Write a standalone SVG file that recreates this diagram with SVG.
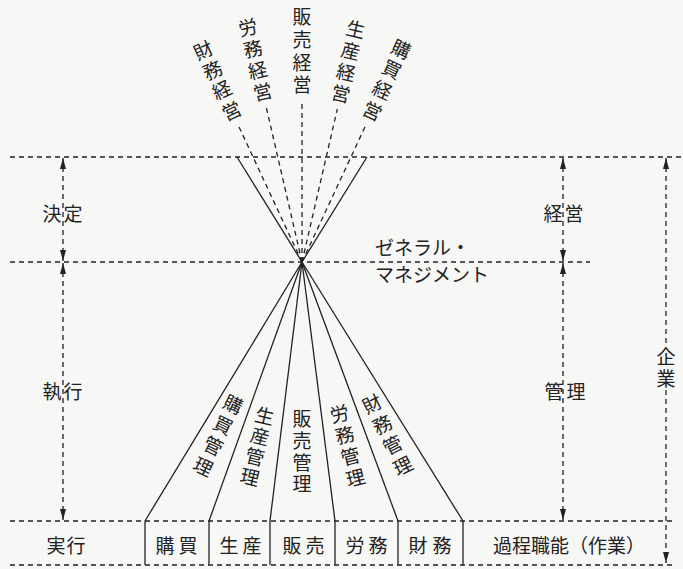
<svg xmlns="http://www.w3.org/2000/svg" width="683" height="569" viewBox="0 0 683 569">
<style>
.dash{stroke:#222;stroke-width:1.3;stroke-dasharray:5 4;fill:none}
.solid{stroke:#222;stroke-width:1.3;fill:none}
.t{font-family:"Noto Sans CJK JP","Noto Sans CJK SC",sans-serif;font-size:19px;fill:#222;text-anchor:middle;dominant-baseline:central}
.ts{font-family:"Noto Sans CJK JP","Noto Sans CJK SC",sans-serif;font-size:19px;fill:#222;dominant-baseline:central}
</style>
<defs>
<marker id="ah" viewBox="0 0 11 6" refX="11" refY="3" markerWidth="11" markerHeight="6" markerUnits="userSpaceOnUse" orient="auto-start-reverse">
<path d="M0,0 L11,3 L0,6 z" fill="#222"/>
</marker>
</defs>
<rect x="0" y="0" width="683" height="569" fill="#f7f7f5"/>

<g id="connectors">
<line class="dash" x1="10" y1="157" x2="683" y2="157"/>
<line class="dash" x1="10" y1="262" x2="590" y2="262"/>
<line class="dash" x1="10" y1="521" x2="676" y2="521"/>
<line class="dash" x1="10" y1="565" x2="676" y2="565"/>
<line class="solid" x1="302" y1="262" x2="237" y2="157"/>
<line class="solid" x1="302" y1="262" x2="367" y2="157"/>
<g transform="translate(302,262)">
<line class="dash" x1="0" y1="0" x2="0" y2="-152" transform="rotate(-25)"/>
<line class="dash" x1="0" y1="0" x2="0" y2="-160" transform="rotate(-13)"/>
<line class="dash" x1="0" y1="0" x2="0" y2="-162"/>
<line class="dash" x1="0" y1="0" x2="0" y2="-157" transform="rotate(13)"/>
<line class="dash" x1="0" y1="0" x2="0" y2="-153" transform="rotate(25)"/>
</g>
<line class="solid" x1="302" y1="262" x2="145" y2="521"/>
<line class="solid" x1="302" y1="262" x2="209" y2="521"/>
<line class="solid" x1="302" y1="262" x2="270" y2="521"/>
<line class="solid" x1="302" y1="262" x2="335" y2="521"/>
<line class="solid" x1="302" y1="262" x2="398" y2="521"/>
<line class="solid" x1="302" y1="262" x2="463" y2="521"/>
<line class="solid" x1="145" y1="521" x2="145" y2="565"/>
<line class="solid" x1="209" y1="521" x2="209" y2="565"/>
<line class="solid" x1="270" y1="521" x2="270" y2="565"/>
<line class="solid" x1="335" y1="521" x2="335" y2="565"/>
<line class="solid" x1="398" y1="521" x2="398" y2="565"/>
<line class="solid" x1="463" y1="521" x2="463" y2="565"/>
<line class="dash" x1="63" y1="158" x2="63" y2="261" marker-start="url(#ah)" marker-end="url(#ah)"/>
<line class="dash" x1="63" y1="263" x2="63" y2="520" marker-start="url(#ah)" marker-end="url(#ah)"/>
<line class="dash" x1="563" y1="158" x2="563" y2="261" marker-start="url(#ah)" marker-end="url(#ah)"/>
<line class="dash" x1="563" y1="263" x2="563" y2="520" marker-start="url(#ah)" marker-end="url(#ah)"/>
<line class="dash" x1="666" y1="158" x2="666" y2="343" marker-start="url(#ah)"/>
<line class="dash" x1="666" y1="390" x2="666" y2="563" marker-end="url(#ah)"/>
</g>

<g id="top-labels">
<g id="zaimu-keiei" transform="translate(302,262) rotate(-25)">
<text class="t" x="0" y="-235">財</text><text class="t" x="0" y="-213">務</text><text class="t" x="0" y="-191">経</text><text class="t" x="0" y="-168">営</text>
</g>
<g id="romu-keiei" transform="translate(302,262) rotate(-13)">
<text class="t" x="0" y="-242">労</text><text class="t" x="0" y="-220">務</text><text class="t" x="0" y="-198">経</text><text class="t" x="0" y="-176">営</text>
</g>
<g id="hanbai-keiei" transform="translate(302,262)">
<text class="t" x="0" y="-247">販</text><text class="t" x="0" y="-224">売</text><text class="t" x="0" y="-201">経</text><text class="t" x="0" y="-179">営</text>
</g>
<g id="seisan-keiei" transform="translate(302,262) rotate(13)">
<text class="t" x="0" y="-240">生</text><text class="t" x="0" y="-218">産</text><text class="t" x="0" y="-196">経</text><text class="t" x="0" y="-174">営</text>
</g>
<g id="kobai-keiei" transform="translate(302,262) rotate(25)">
<text class="t" x="0" y="-236">購</text><text class="t" x="0" y="-214">買</text><text class="t" x="0" y="-191">経</text><text class="t" x="0" y="-168">営</text>
</g>
</g>

<g id="fan-labels">
<g id="kobai-kanri" transform="translate(302,262) rotate(25.8)">
<text class="t" x="0" y="157">購</text><text class="t" x="0" y="180">買</text><text class="t" x="0" y="203">管</text><text class="t" x="0" y="226">理</text>
</g>
<g id="seisan-kanri" transform="translate(302,262) rotate(13.6)">
<text class="t" x="0" y="157">生</text><text class="t" x="0" y="178">産</text><text class="t" x="0" y="199">管</text><text class="t" x="0" y="220">理</text>
</g>
<g id="hanbai-kanri" transform="translate(302,262)">
<text class="t" x="0" y="155">販</text><text class="t" x="0" y="177">売</text><text class="t" x="0" y="199">管</text><text class="t" x="0" y="220">理</text>
</g>
<g id="romu-kanri" transform="translate(302,262) rotate(-13.9)">
<text class="t" x="0" y="155">労</text><text class="t" x="0" y="177">務</text><text class="t" x="0" y="199">管</text><text class="t" x="0" y="221">理</text>
</g>
<g id="zaimu-kanri" transform="translate(302,262) rotate(-26.3)">
<text class="t" x="0" y="157">財</text><text class="t" x="0" y="180">務</text><text class="t" x="0" y="203">管</text><text class="t" x="0" y="226">理</text>
</g>
</g>

<g id="general-management">
<text class="ts" x="375" y="246">ゼネラル・</text>
<text class="ts" x="375" y="273">マネジメント</text>
</g>

<g id="side-labels">
<g id="kettei"><text class="t" x="52" y="212">決</text><text class="t" x="73" y="212">定</text></g>
<g id="shikko"><text class="t" x="52" y="390">執</text><text class="t" x="73" y="390">行</text></g>
<g id="keiei"><text class="t" x="553" y="212">経</text><text class="t" x="574" y="212">営</text></g>
<g id="kanri"><text class="t" x="554" y="390">管</text><text class="t" x="576" y="390">理</text></g>
<g id="kigyo"><text class="t" x="666" y="355">企</text><text class="t" x="666" y="377">業</text></g>
</g>

<g id="bottom-row">
<g id="jikko"><text class="t" x="56" y="544">実</text><text class="t" x="76" y="544">行</text></g>
<g id="kobai"><text class="t" x="165" y="544">購</text><text class="t" x="188" y="544">買</text></g>
<g id="seisan"><text class="t" x="229" y="544">生</text><text class="t" x="252" y="544">産</text></g>
<g id="hanbai"><text class="t" x="292" y="544">販</text><text class="t" x="315" y="544">売</text></g>
<g id="romu"><text class="t" x="355" y="544">労</text><text class="t" x="378" y="544">務</text></g>
<g id="zaimu"><text class="t" x="418" y="544">財</text><text class="t" x="442" y="544">務</text></g>
<g id="katei"><text class="t" x="569" y="544">過程職能（作業）</text></g>
</g>
</svg>
